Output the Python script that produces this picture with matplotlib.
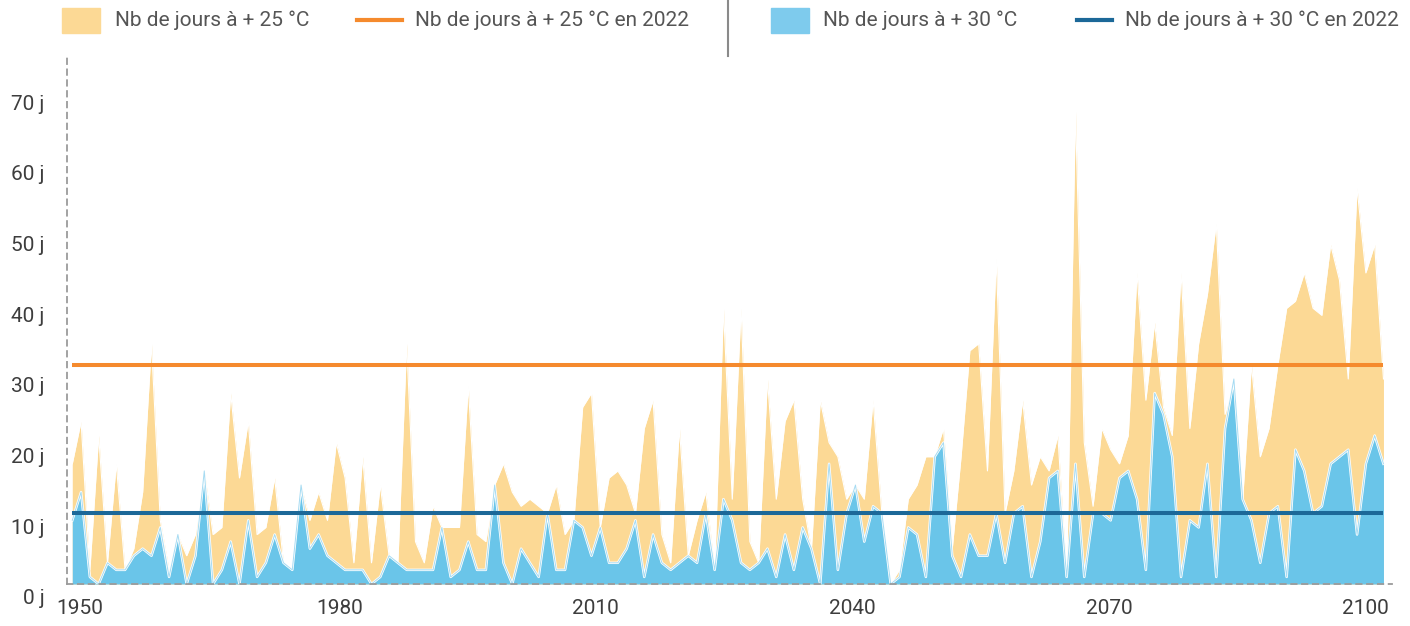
import numpy as np
import matplotlib
matplotlib.use("Agg")
import matplotlib.pyplot as plt
import matplotlib.transforms as mtransforms
from matplotlib.patches import Rectangle
from matplotlib.lines import Line2D

plt.rcParams['font.family'] = ['Roboto', 'DejaVu Sans']

# Number of days above 25 °C / 30 °C per year
years = np.arange(1950, 2100)
jours_25 = [17, 23, 2, 21, 3, 17, 2, 5, 13, 34, 9, 2, 7, 4, 7, 16, 7, 8, 27, 15,
            23, 7, 8, 15, 3, 2, 14, 9, 13, 9, 20, 15, 3, 18, 3, 14, 4, 3, 34, 6,
            3, 11, 8, 8, 8, 28, 7, 6, 14, 17, 13, 11, 12, 11, 10, 14, 7, 9, 25, 27,
            8, 15, 16, 14, 10, 22, 26, 7, 3, 22, 4, 9, 13, 2, 39, 12, 39, 6, 3, 29,
            12, 23, 26, 12, 5, 26, 20, 18, 12, 14, 12, 26, 10, 0, 2, 12, 14, 18, 18, 22,
            5, 18, 33, 34, 16, 46, 10, 16, 26, 14, 18, 16, 21, 1, 67, 20, 11, 22, 19, 17,
            21, 44, 26, 37, 25, 21, 44, 22, 34, 41, 51, 24, 29, 12, 31, 18, 22, 31, 39, 40,
            44, 39, 38, 48, 43, 29, 56, 44, 48, 29]
jours_30 = [9, 13, 1, 0, 3, 2, 2, 4, 5, 4, 8, 1, 7, 0, 4, 16, 0, 2, 6, 0,
            9, 1, 3, 7, 3, 2, 14, 5, 7, 4, 3, 2, 2, 2, 0, 1, 4, 3, 2, 2,
            2, 2, 8, 1, 2, 6, 2, 2, 14, 3, 0, 5, 3, 1, 10, 2, 2, 9, 8, 4,
            8, 3, 3, 5, 9, 1, 7, 3, 2, 3, 4, 3, 10, 2, 12, 9, 3, 2, 3, 5,
            1, 7, 2, 8, 5, 0, 17, 2, 10, 14, 6, 11, 10, 0, 1, 8, 7, 1, 18, 20,
            4, 1, 7, 4, 4, 10, 3, 10, 11, 1, 6, 15, 16, 1, 17, 1, 10, 10, 9, 15,
            16, 12, 2, 27, 24, 18, 1, 9, 8, 17, 1, 22, 29, 12, 9, 3, 10, 11, 1, 19,
            16, 10, 11, 17, 18, 19, 7, 17, 21, 17]
ref_2022_25 = 31
ref_2022_30 = 10

y_ticks = [0, 10, 20, 30, 40, 50, 60, 70]
y_labels = [f"{v} j" for v in y_ticks]
x_labels = ['1950', '1980', '2010', '2040', '2070', '2100']
x_label_pos = [1950.9, 1980.4, 2009.5, 2038.6, 2067.9, 2096.9]

legend_labels = ["Nb de jours à + 25 °C", "Nb de jours à + 25 °C en 2022",
                 "Nb de jours à + 30 °C", "Nb de jours à + 30 °C en 2022"]

c_orange_fill = '#fcd995'
c_blue_fill = '#6ac5e9'
c_orange_line = '#f58a2d'
c_blue_line = '#1c6898'
c_text = '#3d3d3d'

W, H = 1410, 626
fig = plt.figure(figsize=(W / 100, H / 100), dpi=100)
ax = fig.add_axes([67 / W, 42 / H, 1325 / W, 526 / H])

ax.fill_between(years, 0, jours_25, color=c_orange_fill, lw=0, zorder=1)
ax.plot(years, jours_25, color='white', lw=0.8, zorder=1.1)
ax.fill_between(years, 0, jours_30, color=c_blue_fill, lw=0, zorder=1.2)
ax.plot(years, jours_30, color='white', lw=1.8, zorder=1.3)
ax.plot(years, jours_30, color='#a6dbf2', lw=0.7, zorder=1.4)

ax.plot(years, np.full(len(years), ref_2022_25), color=c_orange_line, lw=2.9, zorder=3,
        solid_capstyle='butt')
ax.plot(years, np.full(len(years), ref_2022_30), color=c_blue_line, lw=2.9, zorder=3,
        solid_capstyle='butt')

ax.set_xlim(1949.4, 2099.97)
ax.set_ylim(0, 74.4)

for side in ['top', 'right']:
    ax.spines[side].set_visible(False)
for side in ['left', 'bottom']:
    ax.spines[side].set_color('#9b9b9b')
    ax.spines[side].set_linewidth(1.3)
    ax.spines[side].set_linestyle((0, (3, 3)))
    ax.spines[side].set_zorder(4)

ax.set_yticks(y_ticks)
ax.set_yticklabels(y_labels)
ax.set_xticks(x_label_pos)
ax.set_xticklabels(x_labels)
ax.tick_params(axis='both', length=0, labelsize=15, labelcolor=c_text)
ax.tick_params(axis='y', pad=16)
ax.tick_params(axis='x', pad=11)
offset = mtransforms.ScaledTranslation(0, -13 / 100, fig.dpi_scale_trans)
for lab in ax.get_yticklabels():
    lab.set_transform(lab.get_transform() + offset)


def fx(x):
    return x / W


def fy(y):
    return 1 - y / H


# legend, built by hand
fig.add_artist(Rectangle((fx(62), fy(33)), 38 / W, 25 / H, color=c_orange_fill,
                         transform=fig.transFigure))
fig.add_artist(Rectangle((fx(771), fy(33)), 38 / W, 25 / H, color='#7ecbed',
                         transform=fig.transFigure))
fig.add_artist(Line2D([fx(357), fx(402)], [fy(20), fy(20)], color=c_orange_line, lw=3,
                      transform=fig.transFigure))
fig.add_artist(Line2D([fx(1077), fx(1112)], [fy(20), fy(20)], color=c_blue_line, lw=3,
                      transform=fig.transFigure))
fig.add_artist(Line2D([fx(728), fx(728)], [fy(0), fy(56)], color='#8a8a8a', lw=1.5,
                      transform=fig.transFigure))
for x, txt in zip([115, 415, 823, 1125], legend_labels):
    fig.text(fx(x), fy(20), txt, fontsize=15, color='#555555', va='center', ha='left')

fig.savefig('out.png', dpi=100)
